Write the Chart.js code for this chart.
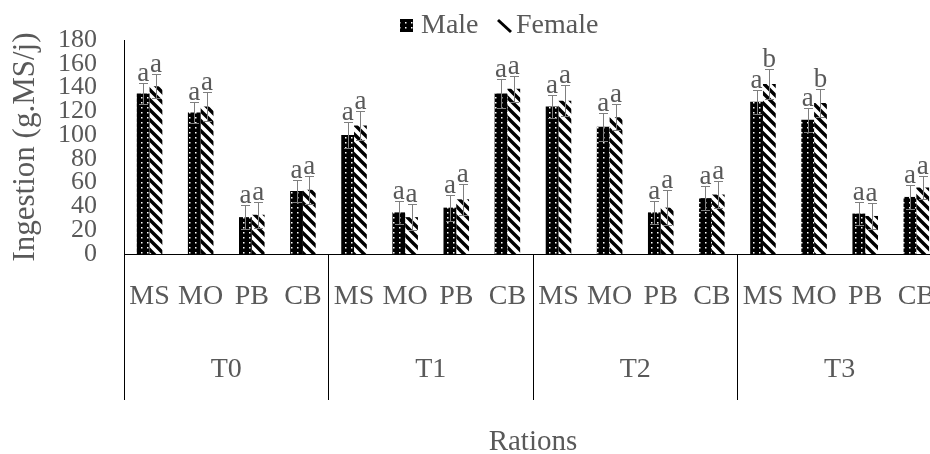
<!DOCTYPE html>
<html>
<head>
<meta charset="utf-8">
<script src="https://cdn.jsdelivr.net/npm/chart.js@4.4.0/dist/chart.umd.min.js"></script>
<style>
  html, body { margin: 0; padding: 0; background: #fff; overflow: hidden; }
  canvas { display: block; }
</style>
</head>
<body>
<canvas id="myChart" width="964" height="454"></canvas>
<script>
var treatments = ['T0', 'T1', 'T2', 'T3'];
var rations = ['MS', 'MO', 'PB', 'CB'];

var maleValues   = [135, 119, 31, 53,  100, 35, 39, 135,  124, 107, 35, 47,  128, 113, 34, 48];
var maleErrors   = [9, 9, 10, 9,       11, 10, 11, 12,    10, 12, 10, 10,    10, 10, 10, 10];
var maleLetters  = ['a','a','a','a',   'a','a','a','a',   'a','a','a','a',   'a','a','a','a'];

var femaleValues  = [141, 124, 33, 54,  108, 31, 46, 139,  129, 115, 39, 50,  143, 127, 32, 56];
var femaleErrors  = [10, 12, 11, 12,    12, 11, 13, 11,    13, 11, 15, 11,    13, 12, 11, 10];
var femaleLetters = ['a','a','a','a',   'a','a','a','a',   'a','a','a','a',   'b','b','a','a'];

var yTicks = { min: 0, max: 180, step: 20 };

var labels = [];
treatments.forEach(function () {
    rations.forEach(function (r) { labels.push(r); });
});

var serif = '"Liberation Serif", "Times New Roman", serif';
var grey = '#595959';

function makePattern(w, h, draw) {
    var c = document.createElement('canvas');
    c.width = w; c.height = h;
    var g = c.getContext('2d');
    draw(g);
    return g.createPattern(c, 'repeat');
}

// black with small white dots
var malePattern = makePattern(6, 5, function (g) {
    g.fillStyle = '#000';
    g.fillRect(0, 0, 6, 5);
    g.fillStyle = '#fff';
    g.fillRect(3, 2, 1.5, 1.5);
});

// white with thick "\" stripes
var femalePattern = makePattern(10, 10, function (g) {
    g.fillStyle = '#fff';
    g.fillRect(0, 0, 10, 10);
    g.strokeStyle = '#000';
    g.lineWidth = 3.4;
    g.beginPath();
    g.moveTo(-2, -2); g.lineTo(12, 12);
    g.moveTo(-2, 8); g.lineTo(2, 12);
    g.moveTo(8, -2); g.lineTo(12, 2);
    g.stroke();
});

var errorBars = {
    id: 'errorBars',
    afterDatasetsDraw: function (chart) {
        var ctx = chart.ctx;
        var y = chart.scales.y;
        var errs = [maleErrors, femaleErrors];
        var letters = [maleLetters, femaleLetters];
        ctx.save();
        ctx.strokeStyle = '#7f7f7f';
        ctx.lineWidth = 1;
        ctx.fillStyle = grey;
        ctx.font = '27px ' + serif;
        ctx.textAlign = 'center';
        ctx.textBaseline = 'alphabetic';
        chart.data.datasets.forEach(function (ds, i) {
            chart.getDatasetMeta(i).data.forEach(function (bar, j) {
                var v = ds.data[j], e = errs[i][j];
                var top = Math.round(y.getPixelForValue(v + e)) + 0.5;
                var bot = Math.round(y.getPixelForValue(v - e)) + 0.5;
                var x = Math.round(bar.x) + 0.5;
                ctx.beginPath();
                ctx.moveTo(x, top); ctx.lineTo(x, bot);
                ctx.moveTo(x - 4.5, top); ctx.lineTo(x + 4.5, top);
                ctx.moveTo(x - 4.5, bot); ctx.lineTo(x + 4.5, bot);
                ctx.stroke();
                ctx.fillText(letters[i][j], bar.x, top - 3);
            });
        });
        ctx.restore();
    }
};

var groupLines = {
    id: 'groupLines',
    afterDraw: function (chart) {
        var ctx = chart.ctx;
        var x = chart.scales.x;
        var top = chart.chartArea.bottom;
        var bottom = chart.scales.x2.top + 89;
        ctx.save();
        ctx.strokeStyle = '#000';
        ctx.lineWidth = 1;
        ctx.beginPath();
        for (var k = 0; k <= treatments.length; k++) {
            var px = Math.round(x.left + k * x.width / treatments.length) + 0.5;
            ctx.moveTo(px, top);
            ctx.lineTo(px, bottom);
        }
        ctx.stroke();
        ctx.restore();
    }
};

var legendBox = {
    id: 'legendBox',
    afterDraw: function (chart) {
        var ctx = chart.ctx;
        ctx.save();
        ctx.font = '28px ' + serif;
        ctx.textBaseline = 'middle';
        ctx.textAlign = 'left';
        ctx.fillStyle = malePattern;
        ctx.fillRect(400, 19, 13, 13);
        ctx.fillStyle = grey;
        ctx.fillText('Male', 421, 26);
        ctx.strokeStyle = '#000';
        ctx.lineWidth = 3;
        ctx.beginPath();
        ctx.moveTo(498, 20);
        ctx.lineTo(511, 32);
        ctx.stroke();
        ctx.fillText('Female', 516, 26);
        ctx.restore();
    }
};

var ctx = document.getElementById('myChart').getContext('2d');
var myChart = new Chart(ctx, {
    type: 'bar',
    data: {
        labels: labels,
        datasets: [{
            label: 'Male',
            data: maleValues,
            backgroundColor: malePattern,
            borderWidth: 0
        }, {
            label: 'Female',
            data: femaleValues,
            backgroundColor: femalePattern,
            borderWidth: 0
        }]
    },
    options: {
        responsive: false,
        animation: false,
        devicePixelRatio: 1,
        datasets: {
            bar: { barPercentage: 1, categoryPercentage: 0.5 }
        },
        layout: { padding: { top: 32, right: 0, bottom: 0, left: 0 } },
        plugins: {
            legend: { display: false },
            tooltip: { enabled: false }
        },
        scales: {
            y: {
                min: yTicks.min,
                max: yTicks.max,
                ticks: {
                    stepSize: yTicks.step,
                    autoSkip: false,
                    padding: 27,
                    color: grey,
                    font: { family: serif, size: 26, lineHeight: 1 }
                },
                grid: { display: false, drawTicks: false },
                border: { display: true, color: '#000', width: 1 },
                title: {
                    display: true,
                    text: 'Ingestion (g.MS/j)',
                    color: grey,
                    padding: { top: 10, bottom: 0 },
                    font: { family: serif, size: 31, lineHeight: 1 }
                },
                afterFit: function (s) { s.width = 124; }
            },
            x: {
                position: 'bottom',
                ticks: {
                    autoSkip: false,
                    maxRotation: 0,
                    padding: 29,
                    color: grey,
                    font: { family: serif, size: 28, lineHeight: 1 }
                },
                grid: { display: false, drawTicks: false },
                border: { display: true, color: '#000', width: 1 },
                afterFit: function (s) { s.height = 57; }
            },
            x2: {
                type: 'category',
                position: 'bottom',
                labels: treatments,
                offset: true,
                ticks: {
                    autoSkip: false,
                    maxRotation: 0,
                    padding: 45,
                    color: grey,
                    font: { family: serif, size: 28, lineHeight: 1 }
                },
                grid: { display: false, drawTicks: false },
                border: { display: false },
                title: {
                    display: true,
                    text: 'Rations',
                    color: grey,
                    padding: { top: 0, bottom: 0 },
                    font: { family: serif, size: 29, lineHeight: 0.8 }
                },
                afterFit: function (s) { s.height = 143; }
            }
        }
    },
    plugins: [errorBars, groupLines, legendBox]
});
</script>
</body>
</html>
